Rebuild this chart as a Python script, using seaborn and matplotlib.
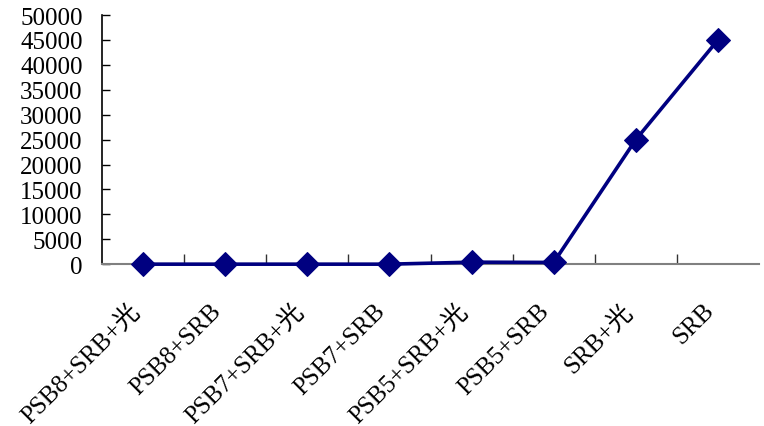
import matplotlib
matplotlib.use("Agg")
import matplotlib.pyplot as plt
import seaborn as sns
import pandas as pd
from matplotlib.ticker import FixedLocator

groups = ["PSB8+SRB+光", "PSB8+SRB", "PSB7+SRB+光", "PSB7+SRB",
          "PSB5+SRB+光", "PSB5+SRB", "SRB+光", "SRB"]
counts = [0, 0, 0, 0, 400, 350, 25000, 45000]
y_ticks = list(range(0, 50001, 5000))

sns.set_style("white")
plt.rcParams["font.family"] = ["Liberation Serif", "Noto Sans CJK SC"]
plt.rcParams["xtick.direction"] = "in"
plt.rcParams["ytick.direction"] = "in"

df = pd.DataFrame({"group": groups, "count": counts})

fig = plt.figure(figsize=(7.64, 4.27), dpi=100)
ax = fig.add_axes([0.1335, 0.379, 0.86, 0.5835])

sns.lineplot(data=df, x="group", y="count", sort=False, ax=ax,
             color="#000080", linewidth=2.6, marker="D", markersize=12,
             markeredgecolor="#000080", markerfacecolor="#000080",
             clip_on=False, zorder=5)

ax.set_xlim(-0.5, len(groups) - 0.5)
ax.set_ylim(0, 50000)
ax.set_yticks(y_ticks)
ax.set_yticklabels([str(v) for v in y_ticks], fontsize=18)

# category ticks carry no marks; short marks sit between categories
ax.set_xticks(range(len(groups)))
ax.set_xticklabels([])
ax.xaxis.set_minor_locator(FixedLocator([i + 0.5 for i in range(len(groups) - 1)]))

# slanted category names hung below each category position
for pos, name in zip(ax.get_xticks(), groups):
    ax.annotate(name, xy=(pos, 0), xycoords=("data", "axes fraction"),
                xytext=(-11, -25), textcoords="offset points",
                rotation=45, rotation_mode="anchor", ha="right", va="top",
                fontsize=18, color="black", annotation_clip=False)

ax.set_xlabel("")
ax.set_ylabel("")

for side in ["top", "right"]:
    ax.spines[side].set_visible(False)
ax.spines["left"].set_color("black")
ax.spines["left"].set_linewidth(1.2)
ax.spines["bottom"].set_color("#808080")
ax.spines["bottom"].set_linewidth(1.5)

ax.tick_params(axis="y", direction="in", length=6, width=1, color="black",
               pad=14, labelcolor="black", left=True)
ax.tick_params(axis="x", which="major", length=0)
ax.tick_params(axis="x", which="minor", direction="in", length=7, width=1,
               color="#333333", bottom=True)

fig.savefig("out.png", dpi=100, facecolor="white")
